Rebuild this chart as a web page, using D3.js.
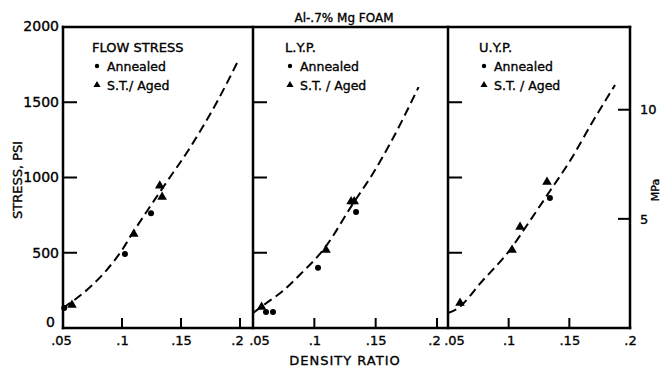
<!DOCTYPE html>
<html>
<head>
<meta charset="utf-8">
<script src="https://cdn.jsdelivr.net/npm/d3@7"></script>
<style>
  body { margin: 0; background: #fff; }
  text { font-family: "DejaVu Sans", sans-serif; fill: #000; stroke: #000; stroke-width: 0.35px; }
</style>
</head>
<body>
<div id="chart"></div>
<script>
/* Al-.7% Mg foam: flow stress, LYP and UYP vs density ratio, three side-by-side panels */

const width = 662, height = 368;

// data: [density ratio, stress psi]
const panelNames = ["FLOW STRESS", "L.Y.P.", "U.Y.P."];
const flowCurve = [[0.05, 133], [0.073, 272], [0.087, 385], [0.1, 518], [0.109, 631], [0.135, 937], [0.158, 1203], [0.18, 1495], [0.1975, 1761]];
const lypCurve = [[0.05, 100], [0.061, 166], [0.075, 250], [0.088, 352], [0.109, 538], [0.131, 820], [0.148, 1030], [0.162, 1229], [0.185, 1601]];
const uypCurve = [[0.05, 100], [0.056, 120], [0.079, 319], [0.101, 518], [0.118, 718], [0.134, 910], [0.151, 1116], [0.17, 1382], [0.1877, 1615]];
const flowAnnealed = [[0.051, 133], [0.1025, 492], [0.1246, 762]];
const flowAged = [[0.0576, 153], [0.110, 625], [0.132, 945], [0.134, 870]];
const lypAnnealed = [[0.0606, 106], [0.0663, 106], [0.103, 400], [0.134, 771]];
const lypAged = [[0.057, 140], [0.1095, 518], [0.130, 840], [0.1325, 840]];
const uypAnnealed = [[0.134, 864]];
const uypAged = [[0.0599, 166], [0.1028, 518], [0.1094, 671], [0.1316, 970]];
const xTicks = [0.05, 0.1, 0.15, 0.2];
const yTicks = [0, 500, 1000, 1500, 2000];
const mpaTicks = [5, 10];
const psiPerMPa = 145.04;

const curves = [flowCurve, lypCurve, uypCurve];
const annealed = [flowAnnealed, lypAnnealed, uypAnnealed];
const aged = [flowAged, lypAged, uypAged];

const yTop = 27, yBottom = 328;
const edges = [63, 253, 448, 630];           // panel frame lines
const xRanges = [[63, 240], [253, 437], [448, 630]]; // where .05 and .2 fall in each panel
const lw = 2.5;                               // frame line width

const svg = d3.select("#chart")
    .append("svg")
    .attr("width", width)
    .attr("height", height)
    .attr("viewBox", [0, 0, width, height]);

const y = d3.scaleLinear().domain([0, 2000]).range([yBottom, yTop]);
const yMPa = d3.scaleLinear().domain([0, 2000 / psiPerMPa]).range([yBottom, yTop]);

const fmt = d => d3.format(".2~f")(d).replace(/^0/, "");

// frame drawn as thin filled bars
const frame = svg.append("g").attr("fill", "#000");
frame.append("rect").attr("x", edges[0] - lw / 2).attr("y", yTop - lw / 2).attr("width", edges[3] - edges[0] + lw).attr("height", lw);
frame.append("rect").attr("x", edges[0] - lw / 2).attr("y", yBottom - lw / 2).attr("width", edges[3] - edges[0] + lw).attr("height", lw);
frame.selectAll(".edge")
    .data(edges)
    .join("rect")
    .attr("x", d => d - lw / 2)
    .attr("y", yTop - lw / 2)
    .attr("width", lw)
    .attr("height", yBottom - yTop + lw);

panelNames.forEach((name, i) => {
    const x = d3.scaleLinear().domain([0.05, 0.2]).range(xRanges[i]);
    const g = svg.append("g");

    // bottom tick labels
    const bx = g.append("g")
        .attr("transform", `translate(0,${yBottom})`)
        .call(d3.axisBottom(x).tickValues(xTicks).tickSize(0).tickPadding(8).tickFormat(fmt));
    bx.select(".domain").remove();
    bx.selectAll(".tick line").remove();
    bx.selectAll(".tick text").style("font-size", "13px")
        .attr("dx", d => d === 0.05 ? (i === 0 ? -2 : 6) : (d === 0.2 && i < 2 ? -3 : 0));

    // inward bottom ticks
    g.append("g").attr("fill", "#000")
        .selectAll("rect")
        .data(xTicks.slice(1))
        .join("rect")
        .attr("x", d => x(d) - 1)
        .attr("y", yBottom - 10)
        .attr("width", 2)
        .attr("height", 10);

    // inward left ticks
    g.append("g").attr("fill", "#000")
        .selectAll("rect")
        .data(yTicks.slice(1, 4))
        .join("rect")
        .attr("x", edges[i])
        .attr("y", d => y(d) - 1)
        .attr("width", 14)
        .attr("height", 2);

    if (i === 0) {
        const ly = g.append("g")
            .attr("transform", `translate(${edges[0]},0)`)
            .call(d3.axisLeft(y).tickValues(yTicks.slice(1, 4)).tickSize(0).tickPadding(4)
                .tickFormat(d3.format("d")));
        ly.select(".domain").remove();
        ly.selectAll(".tick line").remove();
        ly.selectAll(".tick text").style("font-size", "14px");
    }

    // dashed fit curve
    const line = d3.line()
        .x(d => x(d[0]))
        .y(d => y(d[1]))
        .curve(d3.curveMonotoneX);
    g.append("path")
        .datum(curves[i])
        .attr("d", line)
        .attr("fill", "none")
        .style("stroke", "#000")
        .style("stroke-width", "2px")
        .style("stroke-dasharray", "9,5");

    // annealed = dots, S.T./aged = triangles
    g.selectAll(".ann")
        .data(annealed[i])
        .join("circle")
        .attr("cx", d => x(d[0]))
        .attr("cy", d => y(d[1]))
        .attr("r", 3)
        .attr("fill", "#000");
    g.selectAll(".aged")
        .data(aged[i])
        .join("path")
        .attr("d", d3.symbol(d3.symbolTriangle, 40))
        .attr("transform", d => `translate(${x(d[0])},${y(d[1])})`)
        .attr("fill", "#000");

    // legend
    const lx = edges[i] + [29, 32, 31][i];
    g.append("text").attr("x", lx).attr("y", 52).style("font-size", "13px").text(name);
    g.append("circle").attr("cx", lx + 5).attr("cy", 66).attr("r", 2.2).attr("fill", "#000");
    g.append("text").attr("x", lx + 15).attr("y", 71).style("font-size", "12.5px").text("Annealed");
    g.append("path").attr("d", d3.symbol(d3.symbolTriangle, 22))
        .attr("transform", `translate(${lx + 5},85)`).attr("fill", "#000");
    g.append("text").attr("x", lx + 15).attr("y", 90).style("font-size", "12.5px")
        .text(i === 0 ? "S.T./ Aged" : "S.T. / Aged");
});

// the 0 and 2000 labels sit at the frame corners
svg.append("g")
    .selectAll("text")
    .data([yTicks[0], yTicks[4]])
    .join("text")
    .attr("x", d => d === 0 ? 55 : 59)
    .attr("y", d => y(d))
    .attr("dy", d => d === 0 ? "-0.05em" : "0.32em")
    .attr("text-anchor", "end")
    .style("font-size", "14px")
    .text(d => d);

// right MPa axis, ticks inward
const ry = svg.append("g")
    .attr("transform", `translate(${edges[3]},0)`)
    .call(d3.axisRight(yMPa).tickValues(mpaTicks).tickSize(0).tickPadding(10));
ry.select(".domain").remove();
ry.selectAll(".tick line").remove();
ry.selectAll(".tick text").style("font-size", "13px");
svg.append("g").attr("fill", "#000")
    .selectAll("rect")
    .data(mpaTicks)
    .join("rect")
    .attr("x", edges[3] - 12)
    .attr("y", d => yMPa(d) - 1)
    .attr("width", 12)
    .attr("height", 2);

// titles
svg.append("text")
    .attr("x", 344).attr("y", 22)
    .attr("text-anchor", "middle")
    .style("font-size", "12px")
    .text("Al-.7% Mg  FOAM");

svg.append("text")
    .attr("x", 345).attr("y", 365)
    .attr("text-anchor", "middle")
    .style("font-size", "13px")
    .style("letter-spacing", "1px")
    .text("DENSITY RATIO");

svg.append("text")
    .attr("transform", "rotate(-90)")
    .attr("x", -180).attr("y", 22)
    .attr("text-anchor", "middle")
    .style("font-size", "13px")
    .text("STRESS, PSI");

svg.append("text")
    .attr("transform", "rotate(-90)")
    .attr("x", -190).attr("y", 659)
    .attr("text-anchor", "middle")
    .style("font-size", "11px")
    .text("MPa");
</script>
</body>
</html>
